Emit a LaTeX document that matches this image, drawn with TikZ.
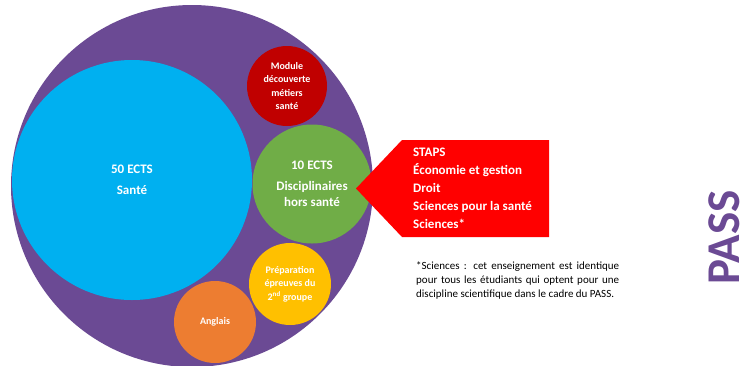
\documentclass[tikz,border=0pt]{standalone}
\usepackage{fontspec}
\setmainfont{Carlito}
\usetikzlibrary{positioning}

\definecolor{passviolet}{HTML}{6B4A94}
\definecolor{santebleu}{HTML}{00B0F0}
\definecolor{modulerouge}{HTML}{C00000}
\definecolor{discivert}{HTML}{70AD47}
\definecolor{prepjaune}{HTML}{FFC000}
\definecolor{anglorange}{HTML}{ED7D31}
\definecolor{flecherouge}{HTML}{FF0000}

\begin{document}
\begin{tikzpicture}[x=1pt, y=-1pt,
    bulle/.style={circle, inner sep=0pt, text=white, align=center},
    grand/.style={font=\bfseries\fontsize{13}{16}\selectfont},
    petit/.style={font=\bfseries\fontsize{10}{13.5}\selectfont}]
    \useasboundingbox (0,0) rectangle (752,365);

    \node[bulle, fill=passviolet, minimum size=362pt] (pass) at (192,186) {};
    \node[bulle, grand, fill=santebleu, minimum size=240pt] (sante) at (132,180) {50 ECTS\\[5pt]Santé};
    \node[bulle, petit, fill=modulerouge, minimum size=80pt] (module) at (287,86) {Module\\découverte\\métiers\\santé};
    \node[bulle, grand, fill=discivert, minimum size=119pt] (disci) at (312,184) {10 ECTS\\[5pt]Disciplinaires\\hors santé};
    \node[bulle, petit, fill=prepjaune, minimum size=82pt] (prep) at (290,284) {Préparation\\épreuves du\\2\textsuperscript{nd} groupe};
    \node[bulle, petit, fill=anglorange, minimum size=82pt] (anglais) at (215,322) {Anglais};

    \fill[flecherouge] (356,188.5) -- (402,140) -- (549,140) -- (549,237) -- (402,237) -- cycle;
    \node[anchor=west, inner sep=0pt, align=left, text=white, font=\bfseries\fontsize{13}{18}\selectfont] (filieres) at (413,188)
        {STAPS\\Économie et gestion\\Droit\\Sciences pour la santé\\Sciences*};

    \node[anchor=west, inner sep=0pt, text width=203pt, align=justify, font=\fontsize{11}{14}\selectfont] (note) at (416,280)
        {\parfillskip=0pt *Sciences~: cet enseignement est identique\linebreak pour tous les étudiants qui optent pour une\linebreak discipline scientifique dans le cadre du PASS.};

    \node[rotate=90, inner sep=0pt, text=passviolet, font=\bfseries\fontsize{47}{47}\selectfont] (titre) at (724,237.5) {PASS};
\end{tikzpicture}
\end{document}
